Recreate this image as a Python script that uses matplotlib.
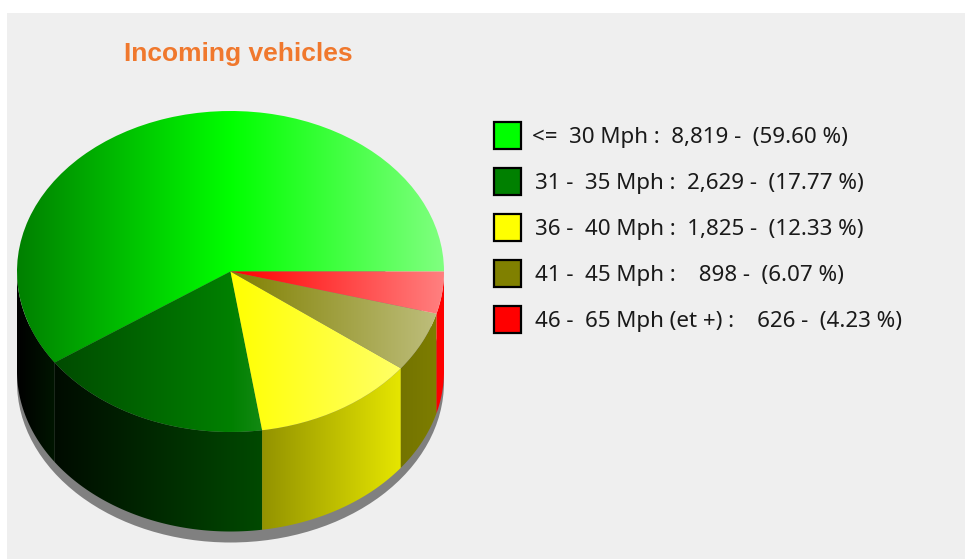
import matplotlib
matplotlib.use('Agg')
import matplotlib.pyplot as plt
from matplotlib.colors import to_rgb
from matplotlib.patches import Ellipse, Polygon, Rectangle
import numpy as np

# Data.
title   = 'Incoming vehicles'
labels  = ['<=  30 Mph', '31 -  35 Mph', '36 -  40 Mph', '41 -  45 Mph', '46 -  65 Mph (et +)']
counts  = [8819, 2629, 1825, 898, 626]
percent = ['59.60', '17.77', '12.33', '6.07', '4.23']
colors  = ['#00ff00', '#008000', '#ffff00', '#808000', '#ff0000']

# Layout, in pixels of the 965x559 picture.
W, H   = 965, 559
cx, cy = 230.5, 271.5
rx, ry = 213.5, 160.5
depth  = 99.5
shadow = 11

plt.rcParams['font.family'] = ['Noto Sans', 'DejaVu Sans']

################################################################################
# Helpers.                                                                     #
################################################################################

xs = np.linspace(-1, 1, 256)

def top_shade(color):
  # Dark on the left, pure in the middle, washed out on the right.
  c = np.array(to_rgb(color))
  out = np.zeros((1, xs.size, 3))
  for i, x in enumerate(xs):
    if x < 0:
      out[0, i] = c*(1 + 0.5*x)
    else:
      out[0, i] = c + (1 - c)*0.5*x
  return out

def side_shade(color):
  # Black on the left up to the pure colour on the right.
  c = np.array(to_rgb(color))
  return (c[None, :]*((xs + 1)/2)[:, None])[None, :, :]

def gradient(ax, img, clip):
  im = ax.imshow(img, extent=(-1, 1, -3, 3), aspect='auto', interpolation='bilinear', zorder=clip.get_zorder())
  im.set_clip_path(clip)

################################################################################
# Plot.                                                                        #
################################################################################

fig = plt.figure(figsize=(W/100, H/100), dpi=100, facecolor='white')

# Background panel, title and legend in pixel coordinates.
bg = fig.add_axes([0, 0, 1, 1], zorder=0)
bg.set_xlim(0, W)
bg.set_ylim(H, 0)
bg.axis('off')
bg.add_patch(Rectangle((7, 13), W - 7, H - 13, fc='#efefef', ec='none'))
bg.text(124, 53.5, title, color='#f0782d', fontsize=19, fontweight='bold',
        family=['Liberation Sans'], va='center', ha='left')

for i in range(len(counts)):
  y = 135.5 + 46*i
  bg.add_patch(Rectangle((494, y - 13.5), 27, 27, fc=colors[i], ec='black', lw=1.6))
  count = format(counts[i], ',')
  if counts[i] < 1000:
    count = '  ' + count
  bg.text(532 if i == 0 else 535, y + 2, '%s :  %s -  (%s %%)' % (labels[i], count, percent[i]),
          color='#1a1a1a', fontsize=16.1, va='center', ha='left')

# Pie in unit circle coordinates, squashed by the axes limits.
ax = fig.add_axes([0, 0, 1, 1], zorder=1)
wedges, _ = ax.pie(counts, startangle=0, radius=1)
ax.set_aspect('auto')
ax.patch.set_visible(False)
h = depth/ry

ax.add_patch(Ellipse((0, -h - shadow/ry), 2, 2, fc='#808080', ec='none', zorder=1))

for w, color in zip(wedges, colors):
  # Side wall, only the part on the front half of the pie.
  t1, t2 = max(w.theta1, 180), max(w.theta2, 180)
  if t2 > t1:
    t = np.radians(np.linspace(t1, t2, 200))
    top = np.column_stack([np.cos(t), np.sin(t)])
    bot = np.column_stack([np.cos(t[::-1]), np.sin(t[::-1]) - h])
    wall = Polygon(np.vstack([top, bot]), fc='none', ec='none', zorder=2)
    ax.add_patch(wall)
    gradient(ax, side_shade(color), wall)

  # Top face.
  w.set_facecolor('none')
  w.set_edgecolor('none')
  w.set_zorder(3)
  gradient(ax, top_shade(color), w)

ax.set_xlim(-cx/rx, (W - cx)/rx)
ax.set_ylim((cy - H)/ry, cy/ry)

fig.savefig('out.png', dpi=100)
plt.close()
